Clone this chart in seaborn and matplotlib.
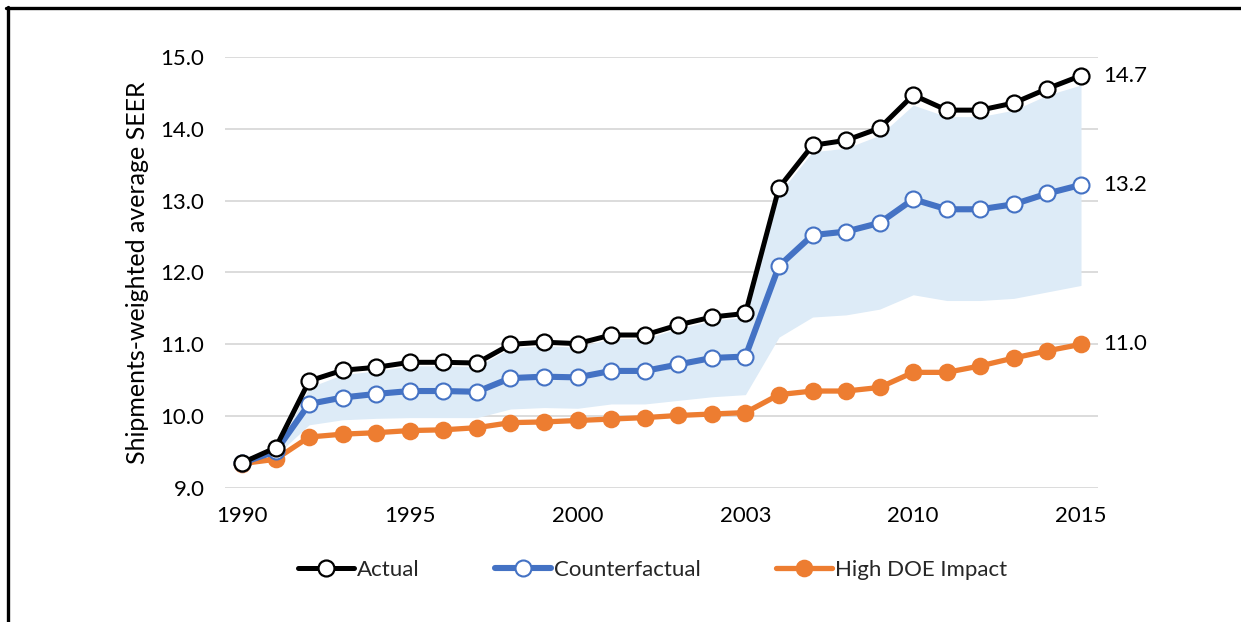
import matplotlib
matplotlib.use("Agg")
import matplotlib.pyplot as plt
import seaborn as sns
import numpy as np
import pandas as pd

years = list(range(1990, 2016))
tick_labels = ["1990", "1995", "2000", "2003", "2010", "2015"]

actual = [9.35, 9.56, 10.49, 10.64, 10.68, 10.75, 10.75, 10.74, 11.00, 11.03,
          11.01, 11.13, 11.13, 11.27, 11.38, 11.43, 13.18, 13.77, 13.84, 14.01,
          14.47, 14.26, 14.26, 14.36, 14.56, 14.74]
counterfactual = [9.35, 9.51, 10.17, 10.26, 10.31, 10.35, 10.35, 10.34, 10.53, 10.55,
                  10.54, 10.63, 10.63, 10.72, 10.81, 10.83, 12.09, 12.52, 12.57, 12.69,
                  13.02, 12.88, 12.88, 12.95, 13.10, 13.22]
high_doe = [9.34, 9.40, 9.71, 9.75, 9.77, 9.80, 9.81, 9.84, 9.91, 9.92,
            9.94, 9.96, 9.98, 10.01, 10.03, 10.05, 10.30, 10.35, 10.35, 10.40,
            10.61, 10.61, 10.70, 10.81, 10.91, 11.00]
band_upper = [9.35, 9.50, 10.40, 10.58, 10.63, 10.70, 10.70, 10.69, 10.95, 10.98,
              10.96, 11.08, 11.08, 11.22, 11.33, 11.38, 13.10, 13.68, 13.73, 13.91,
              14.33, 14.17, 14.17, 14.26, 14.47, 14.61]
band_lower = [9.35, 9.45, 9.88, 9.95, 9.97, 9.98, 9.98, 9.98, 10.10, 10.12,
              10.11, 10.17, 10.17, 10.22, 10.27, 10.30, 11.10, 11.38, 11.41, 11.49,
              11.69, 11.61, 11.61, 11.64, 11.73, 11.82]

sns.set_theme(style="white")
plt.rcParams["font.family"] = ["Lato", "DejaVu Sans"]

df = pd.DataFrame({"pos": np.arange(len(years)), "year": years,
                   "Actual": actual, "Counterfactual": counterfactual,
                   "High DOE Impact": high_doe,
                   "upper": band_upper, "lower": band_lower})

fig = plt.figure(figsize=(12.41, 6.22), dpi=100)
ax = fig.add_axes([0.1815, 0.2154, 0.7031, 0.6930])

ax.fill_between(df["pos"], df["lower"], df["upper"], color="#DDEBF7", lw=0, zorder=1)

BLUE = "#4472C4"
ORANGE = "#ED7D31"
sns.lineplot(data=df, x="pos", y="High DOE Impact", ax=ax, color=ORANGE, lw=3.8,
             marker="o", markersize=11.5, markerfacecolor=ORANGE, markeredgecolor=ORANGE,
             markeredgewidth=1.2, label="High DOE Impact", zorder=3)
sns.lineplot(data=df, x="pos", y="Counterfactual", ax=ax, color=BLUE, lw=4.4,
             marker="o", markersize=11.5, markerfacecolor="white", markeredgecolor=BLUE,
             markeredgewidth=1.5, label="Counterfactual", zorder=4)
sns.lineplot(data=df, x="pos", y="Actual", ax=ax, color="black", lw=3.6,
             marker="o", markersize=11.5, markerfacecolor="white", markeredgecolor="black",
             markeredgewidth=1.6, label="Actual", zorder=5)

ax.set_xlim(-0.5, len(years) - 0.5)
ax.set_ylim(9.0, 15.0)
ax.set_yticks(np.arange(9.0, 15.01, 1.0))
ax.set_yticklabels([f"{v:.1f}" for v in np.arange(9.0, 15.01, 1.0)])
ax.set_xticks(np.arange(0, len(years), 5))
ax.set_xticklabels(tick_labels)
ax.tick_params(axis="both", length=0, labelsize=16, colors="black")
ax.tick_params(axis="y", pad=15)
ax.tick_params(axis="x", pad=13)
ax.grid(axis="y", color="#D9D9D9", lw=1.3)
ax.grid(axis="x", visible=False)
ax.set_axisbelow(True)
for s in ax.spines.values():
    s.set_visible(False)
ax.set_xlabel("")
ax.set_ylabel("Shipments-weighted average SEER", fontsize=18, color="black", labelpad=8)

for series in (actual, counterfactual, high_doe):
    ax.annotate(f"{series[-1]:.1f}", xy=(len(years) - 1, series[-1]),
                xytext=(16, 0), textcoords="offset points",
                va="center", ha="left", fontsize=16, color="black")

handles, labels = ax.get_legend_handles_labels()
order = [labels.index("Actual"), labels.index("Counterfactual"), labels.index("High DOE Impact")]
ax.legend([handles[i] for i in order], [labels[i] for i in order],
          loc="upper center", bbox_to_anchor=(0.49, -0.12), ncol=3, frameon=False,
          fontsize=16, handlelength=2.5, handletextpad=0.15, columnspacing=3.4)

fig.add_artist(plt.Line2D([6 / 1241, 1.0], [1 - 8 / 622, 1 - 8 / 622],
                          transform=fig.transFigure, color="black", lw=2.4))
fig.add_artist(plt.Line2D([7.5 / 1241, 7.5 / 1241], [1 - 7 / 622, 0.0],
                          transform=fig.transFigure, color="black", lw=2.4))

fig.savefig("out.png", dpi=100)
